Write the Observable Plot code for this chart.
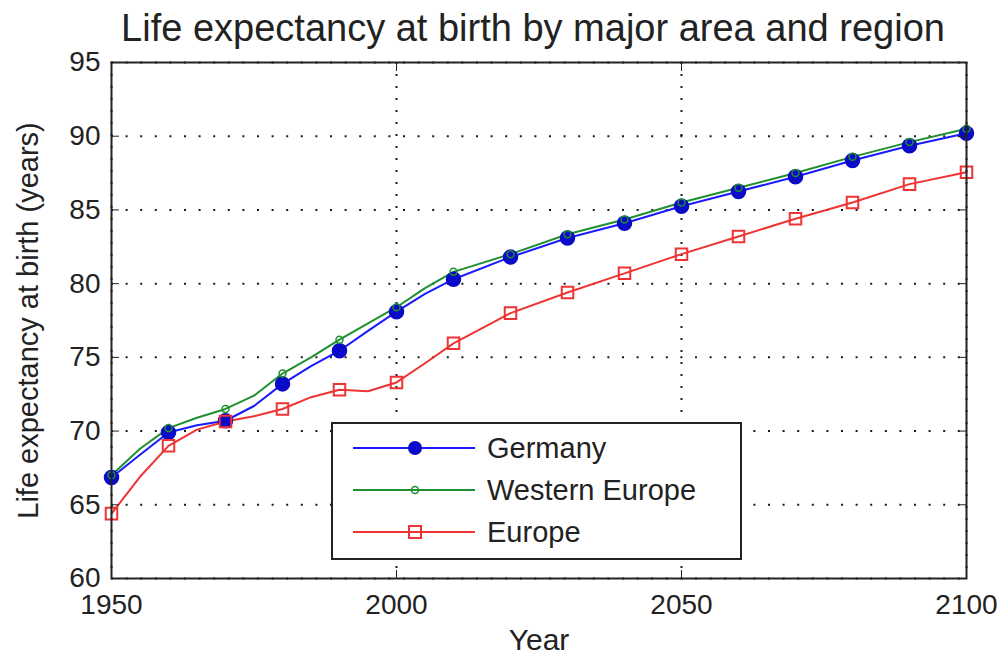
<!DOCTYPE html>
<html>
<head>
<meta charset="utf-8">
<script src="https://cdn.jsdelivr.net/npm/d3@7"></script>
<script src="https://cdn.jsdelivr.net/npm/@observablehq/plot@0.6"></script>
<style>
  body { margin: 0; background: #fff; }
  #chart { position: relative; width: 1003px; height: 655px; font-family: "Liberation Sans", Arial, sans-serif; }
  #legend { position: absolute; left: 331px; top: 422px; }
</style>
</head>
<body>
<div id="chart"></div>
<script>
// Life expectancy at birth (years), UN estimates and projections
const years = [1950, 1955, 1960, 1965, 1970, 1975, 1980, 1985, 1990, 1995, 2000, 2005, 2010,
               2020, 2030, 2040, 2050, 2060, 2070, 2080, 2090, 2100];
const germany = [66.85, 68.4, 69.9, 70.4, 70.7, 71.7, 73.2, 74.4, 75.45, 76.8, 78.1, 79.3, 80.3,
                 81.8, 83.1, 84.1, 85.25, 86.25, 87.25, 88.35, 89.35, 90.2];
const westernEurope = [67.0, 68.8, 70.2, 70.9, 71.5, 72.4, 73.9, 75.0, 76.2, 77.3, 78.4, 79.7, 80.8,
                       82.0, 83.35, 84.35, 85.5, 86.5, 87.5, 88.6, 89.6, 90.5];
const europe = [64.4, 66.9, 69.0, 70.1, 70.65, 71.0, 71.5, 72.3, 72.8, 72.7, 73.3, 74.6, 75.95,
                78.0, 79.4, 80.7, 82.0, 83.2, 84.4, 85.5, 86.75, 87.55];

const seriesNames = ["Germany", "Western Europe", "Europe"];
const seriesColors = ["#1a1aff", "#1f8f2f", "#ee3333"];
const markerColors = ["#0a0ac8", "#1f8f2f", "#ee3333"];

const xTicks = [1950, 2000, 2050, 2100];
const yTicks = [60, 65, 70, 75, 80, 85, 90, 95];

const titleText = "Life expectancy at birth by major area and region";
const xLabel = "Year";
const yLabel = "Life expectancy at birth (years)";

// long-format table for the line and dot marks
const seriesValues = [germany, westernEurope, europe];
const rows = [];
seriesNames.forEach((name, s) => {
  years.forEach((yr, i) => rows.push({ year: yr, value: seriesValues[s][i], series: name }));
});
const markerRows = name => rows.filter(d => d.series === name && d.year % 10 === 0);

const font = "\"Liberation Sans\", Arial, sans-serif";
const ink = "#222";

const chart = Plot.plot({
  width: 1003,
  height: 655,
  marginLeft: 111,
  marginRight: 37,
  marginTop: 62,
  marginBottom: 77,
  style: { fontFamily: font, fontSize: "28px", color: ink, background: "#fff", overflow: "visible" },
  x: { domain: [1950, 2100] },
  y: { domain: [60, 95] },
  color: { domain: seriesNames, range: seriesColors },
  marks: [
    Plot.gridY(yTicks, { stroke: "#000", strokeOpacity: 0.9, strokeWidth: 2, strokeDasharray: "2,12.6" }),
    Plot.gridX(xTicks, { stroke: "#000", strokeOpacity: 0.9, strokeWidth: 2, strokeDasharray: "2,10" }),
    Plot.line(rows, { x: "year", y: "value", z: "series", stroke: "series", strokeWidth: 2 }),
    Plot.dot(markerRows("Germany"), { x: "year", y: "value", r: 7, fill: markerColors[0], stroke: markerColors[0] }),
    Plot.dot(markerRows("Western Europe"), { x: "year", y: "value", symbol: "circle", r: 3.5, fill: "none", stroke: markerColors[1], strokeWidth: 1.5 }),
    Plot.dot(markerRows("Europe"), { x: "year", y: "value", symbol: "square", r: 6.5, fill: "none", stroke: markerColors[2], strokeWidth: 2 }),
    Plot.frame({ stroke: ink, strokeWidth: 2 }),
    Plot.axisX(xTicks, { anchor: "bottom", tickSize: -8, tickPadding: 24, fontSize: 28, label: null, stroke: ink, tickFormat: d => String(d) }),
    Plot.axisX(xTicks, { anchor: "top", tickSize: -8, tickFormat: () => "", label: null, stroke: ink }),
    Plot.axisY(yTicks, { anchor: "left", tickSize: -8, tickPadding: 19, fontSize: 28, label: null, stroke: ink, tickFormat: d => String(d) }),
    Plot.axisY(yTicks, { anchor: "right", tickSize: -8, tickFormat: () => "", label: null, stroke: ink }),
    Plot.text([titleText], { text: d => d, frameAnchor: "top", lineAnchor: "middle", textAnchor: "middle", dy: -34, dx: -6, fontSize: 38, fill: ink }),
    Plot.text([xLabel], { text: d => d, frameAnchor: "bottom", lineAnchor: "middle", textAnchor: "middle", dy: 62, fontSize: 30, fill: ink }),
    Plot.text([yLabel], { text: d => d, frameAnchor: "left", lineAnchor: "middle", textAnchor: "middle", rotate: -90, dx: -83, fontSize: 29, fill: ink })
  ]
});

const container = document.getElementById("chart");
container.appendChild(chart);

// legend box drawn over the axes
const lw = 411, lh = 138;
const legend = d3.select(container).append("svg")
  .attr("id", "legend").attr("width", lw).attr("height", lh)
  .style("font-family", font);
legend.append("rect").attr("x", 1).attr("y", 1).attr("width", lw - 2).attr("height", lh - 2)
  .attr("fill", "#fff").attr("stroke", ink).attr("stroke-width", 2);
const rowY = [26, 68, 110];
seriesNames.forEach((name, i) => {
  const g = legend.append("g").attr("transform", `translate(0,${rowY[i]})`);
  g.append("line").attr("x1", 22).attr("x2", 144).attr("y1", 0).attr("y2", 0)
    .attr("stroke", seriesColors[i]).attr("stroke-width", 2);
  if (i === 0) g.append("circle").attr("cx", 84).attr("cy", 0).attr("r", 7).attr("fill", markerColors[0]);
  if (i === 1) g.append("circle").attr("cx", 84).attr("cy", 0).attr("r", 3.5).attr("fill", "none")
    .attr("stroke", markerColors[1]).attr("stroke-width", 1.5);
  if (i === 2) g.append("rect").attr("x", 78).attr("y", -6).attr("width", 12).attr("height", 12)
    .attr("fill", "none").attr("stroke", markerColors[2]).attr("stroke-width", 2);
  g.append("text").attr("x", 156).attr("y", 0).attr("dy", "0.35em")
    .attr("font-size", 29).attr("fill", ink).text(name);
});
</script>
</body>
</html>
